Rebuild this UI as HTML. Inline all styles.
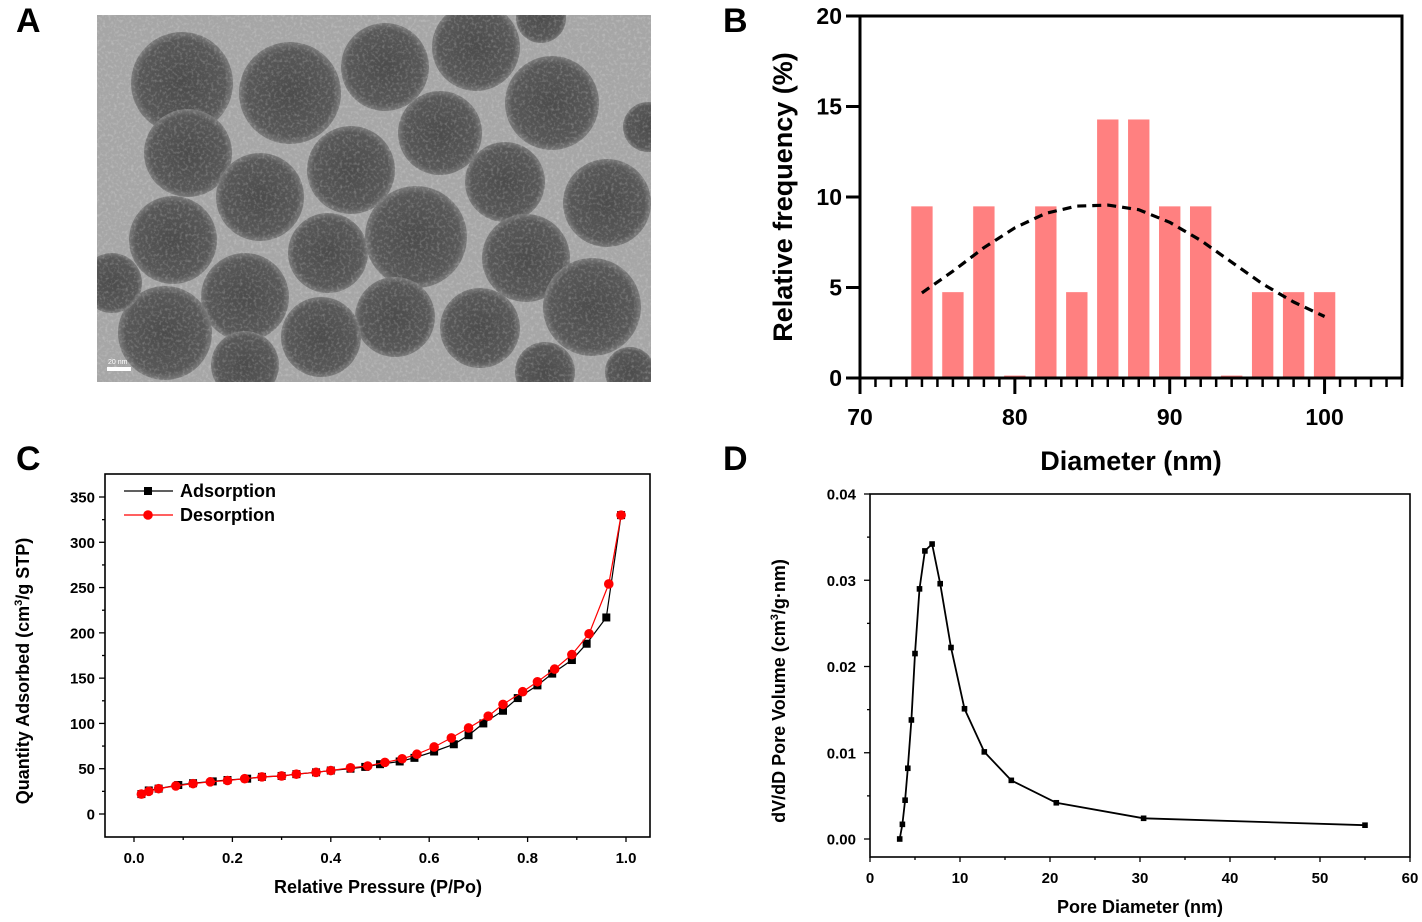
<!DOCTYPE html>
<html><head><meta charset="utf-8"><style>
html,body{margin:0;padding:0;background:#fff;}
svg{display:block;font-family:"Liberation Sans",Arial,sans-serif;}
</style></head><body>
<svg id="fig" width="1422" height="922" viewBox="0 0 1422 922" xmlns="http://www.w3.org/2000/svg">
<defs>
<radialGradient id="pg" cx="50%" cy="50%" r="50%">
<stop offset="0" stop-color="#4c4c4c"/><stop offset="0.85" stop-color="#585858"/><stop offset="1" stop-color="#7a7a7a"/>
</radialGradient>
<clipPath id="tc"><rect x="97" y="15" width="554" height="367"/></clipPath>
<filter id="nz" x="0" y="0" width="100%" height="100%">
<feTurbulence type="fractalNoise" baseFrequency="0.35" numOctaves="2" seed="3"/>
<feColorMatrix type="matrix" values="0 0 0 0 1  0 0 0 0 1  0 0 0 0 1  0 0 0 1.6 -0.75"/>
</filter>
</defs>
<g font-weight="bold" font-size="34" fill="#000">
<text x="16" y="32">A</text>
<text x="723" y="32">B</text>
<text x="16" y="470">C</text>
<text x="723" y="470">D</text>
</g>
<g id="tem" clip-path="url(#tc)">
<rect x="97" y="15" width="554" height="367" fill="#a6a6a6"/>
<g id="particles"></g>
<rect x="97" y="15" width="554" height="367" filter="url(#nz)" opacity="0.35"/>
<rect x="107" y="367" width="24" height="4" fill="#fff"/>
<text x="108" y="364" font-size="7" fill="#fff">20 nm</text>
</g>
<g id="chartB"></g>
<g id="chartC"></g>
<g id="chartD"></g>
</svg>
<script>
// ---------- Panel B data ----------
const bCategories = [74,76,78,80,82,84,86,88,90,92,94,96,98,100];
const bValues = [9.5,4.76,9.5,0.15,9.5,4.76,14.3,14.3,9.5,9.5,0.15,4.76,4.76,4.76];
const bFitX = [74,76,78,80,82,84,86,88,90,92,94,96,98,100];
const bFitY = [4.7,5.9,7.2,8.3,9.1,9.5,9.55,9.3,8.6,7.6,6.4,5.2,4.2,3.4];
const bYTicks = [0,5,10,15,20];
const bXTicks = [70,80,90,100];
// ---------- Panel C data ----------
const cAdsX = [0.015,0.03,0.05,0.09,0.12,0.16,0.19,0.23,0.26,0.30,0.33,0.37,0.40,0.44,0.47,0.50,0.54,0.57,0.61,0.65,0.68,0.71,0.75,0.78,0.82,0.85,0.89,0.92,0.96,0.99];
const cAdsY = [22,26,28,32,34,36,37.5,39,41,42,44,46,48,50,52,55,58,62,69,77,87,100,114,128,142,155,170,188,217,330];
const cDesX = [0.99,0.965,0.925,0.89,0.855,0.82,0.79,0.75,0.72,0.68,0.645,0.61,0.575,0.545,0.51,0.475,0.44,0.40,0.37,0.33,0.30,0.26,0.225,0.19,0.155,0.12,0.085,0.05,0.03,0.015];
const cDesY = [330,254,199,176,160,146,135,121,108,95,84,74,66,61,57,53,51,48,46,44,42,41,39,37,35.5,33.5,31,28,25,22];
const cXTicks = [0,0.2,0.4,0.6,0.8,1.0];
const cYTicks = [0,50,100,150,200,250,300,350];
// ---------- Panel D data ----------
const dX = [3.3,3.6,3.9,4.2,4.6,5.0,5.5,6.1,6.9,7.8,9.0,10.5,12.7,15.7,20.7,30.4,55];
const dY = [0,0.0017,0.0045,0.0082,0.0138,0.0215,0.029,0.0334,0.0342,0.0296,0.0222,0.0151,0.0101,0.0068,0.0042,0.0024,0.0016];
const dXTicks = [0,10,20,30,40,50,60];
const dYTicks = [0,0.01,0.02,0.03,0.04];
// ---------- TEM particles ----------
const particles = [[182,83,51],[290,93,51],[385,67,44],[476,47,44],[552,103,47],[440,133,42],[188,153,44],[351,170,44],[260,197,44],[505,182,40],[607,203,44],[416,237,51],[173,240,44],[328,253,40],[526,258,44],[245,297,44],[592,307,49],[165,333,47],[395,317,40],[321,337,40],[480,328,40],[112,283,30],[648,127,25],[545,372,30],[630,372,25],[245,365,34],[541,18,25]];

const NS="http://www.w3.org/2000/svg";
function mk(parent,tag,attrs,text){const e=document.createElementNS(NS,tag);for(const k in attrs)e.setAttribute(k,attrs[k]);if(text!==undefined)e.textContent=text;parent.appendChild(e);return e;}

const pg=document.getElementById('particles');
particles.forEach(p=>{
  const c=mk(pg,'circle',{cx:p[0],cy:p[1],r:p[2],fill:'url(#pg)'});
  
  
});

// ===== Panel B =====
(function(){
  const g=document.getElementById('chartB');
  const x0=860,x1=1402,y0=378,y1=16, xmin=70,xmax=105, ymax=20;
  const X=v=>x0+(v-xmin)/(xmax-xmin)*(x1-x0);
  const Y=v=>y0-(v/ymax)*(y0-y1);
  const bw=(X(1.42)-X(0));
  bCategories.forEach((c,i)=>{
    const r=mk(g,'rect',{x:X(c)-bw/2,y:Y(bValues[i]),width:bw,height:y0-Y(bValues[i]),fill:'#ff8080',stroke:'#fff','stroke-width':0.6});
    
    
  });
  let d='';
  bFitX.forEach((v,i)=>{d+=(i?'L':'M')+X(v).toFixed(1)+','+Y(bFitY[i]).toFixed(1);});
  const fit=mk(g,'path',{d:d,fill:'none',stroke:'#000','stroke-width':3.2,'stroke-dasharray':'9 6','stroke-linejoin':'round'});
  
  
  const ax=mk(g,'path',{d:`M${x0},${y1}V${y0}H${x1}V${y1}H${x0}Z`,fill:'none',stroke:'#000','stroke-width':3});
  
  
  for(let v=70;v<=105;v++){
    const maj=bXTicks.includes(v);
    mk(g,'line',{x1:X(v),x2:X(v),y1:y0,y2:y0+(maj?16:9),stroke:'#000','stroke-width':maj?3:2.5});
  }
  bXTicks.forEach(v=>{const t=mk(g,'text',{x:X(v),y:425,'text-anchor':'middle','font-size':23,'font-weight':'bold'},v);
    });
  bYTicks.forEach(v=>{mk(g,'line',{x1:x0-14,x2:x0,y1:Y(v),y2:Y(v),stroke:'#000','stroke-width':3});
    const t=mk(g,'text',{x:842,y:Y(v)+8,'text-anchor':'end','font-size':23,'font-weight':'bold'},v);
    });
  const xt=mk(g,'text',{x:1131,y:470,'text-anchor':'middle','font-size':27,'font-weight':'bold'},'Diameter (nm)');
  
  const yt=mk(g,'text',{x:0,y:0,'text-anchor':'middle','font-size':27,'font-weight':'bold',transform:'translate(792,197) rotate(-90)'},'Relative frequency (%)');
  
})();

// ===== Panel C =====
(function(){
  const g=document.getElementById('chartC');
  const x0=105,x1=650,yt0=474,yb=837;
  const X=v=>134+v*(626-134);
  const Y=v=>814-v*(814-497)/350;
  mk(g,'rect',{x:x0,y:yt0,width:x1-x0,height:yb-yt0,fill:'none',stroke:'#000','stroke-width':1.6});
  for(let v=0;v<=1.0001;v+=0.1){const maj=Math.round(v*10)%2===0;
    mk(g,'line',{x1:X(v),x2:X(v),y1:yb,y2:yb+(maj?5:3),stroke:'#000','stroke-width':1.3});}
  cXTicks.forEach(v=>{const t=mk(g,'text',{x:X(v),y:863,'text-anchor':'middle','font-size':15,'font-weight':'bold'},v.toFixed(1));
    });
  for(let v=0;v<=350;v+=25){const maj=v%50===0;
    mk(g,'line',{x1:x0-(maj?6:3),x2:x0,y1:Y(v),y2:Y(v),stroke:'#000','stroke-width':1.3});}
  cYTicks.forEach(v=>{const t=mk(g,'text',{x:95,y:Y(v)+5.5,'text-anchor':'end','font-size':15,'font-weight':'bold'},v);
    });
  function series(xs,ys,col,name){
    let d='';xs.forEach((v,i)=>{d+=(i?'L':'M')+X(v).toFixed(1)+','+Y(ys[i]).toFixed(1);});
    const p=mk(g,'path',{d:d,fill:'none',stroke:col,'stroke-width':1.2});
    
  }
  series(cAdsX,cAdsY,'#000','adsorption');
  cAdsX.forEach((v,i)=>{const m=mk(g,'rect',{x:X(v)-4,y:Y(cAdsY[i])-4,width:8,height:8,fill:'#000'});
    });
  series(cDesX,cDesY,'#ff0000','desorption');
  cDesX.forEach((v,i)=>{const m=mk(g,'circle',{cx:X(v),cy:Y(cDesY[i]),r:4.8,fill:'#ff0000'});
    });
  const lg=mk(g,'g',{});
  
  mk(lg,'line',{x1:124,x2:173,y1:491,y2:491,stroke:'#000','stroke-width':1.2});
  mk(lg,'rect',{x:144,y:487,width:8,height:8,fill:'#000'});
  mk(lg,'text',{x:180,y:497,'font-size':18,'font-weight':'bold'},'Adsorption');
  mk(lg,'line',{x1:124,x2:173,y1:515,y2:515,stroke:'#ff0000','stroke-width':1.2});
  mk(lg,'circle',{cx:148,cy:515,r:4.8,fill:'#ff0000'});
  mk(lg,'text',{x:180,y:521,'font-size':18,'font-weight':'bold'},'Desorption');
  const xt=mk(g,'text',{x:378,y:893,'text-anchor':'middle','font-size':18,'font-weight':'bold'},'Relative Pressure (P/Po)');
  
  const yt=mk(g,'text',{x:0,y:0,'text-anchor':'middle','font-size':18,'font-weight':'bold',transform:'translate(29,671) rotate(-90)'});
  
  yt.innerHTML='Quantity Adsorbed (cm<tspan dy="-7" font-size="11">3</tspan><tspan dy="7">/g STP)</tspan>';
})();

// ===== Panel D =====
(function(){
  const g=document.getElementById('chartD');
  const x0=870,x1=1410,yt0=494,yb=857;
  const X=v=>x0+v/60*(x1-x0);
  const Y=v=>839-v*(839-494)/0.04;
  mk(g,'rect',{x:x0,y:yt0,width:x1-x0,height:yb-yt0,fill:'none',stroke:'#000','stroke-width':1.6});
  for(let v=0;v<=60;v+=5){const maj=v%10===0;
    mk(g,'line',{x1:X(v),x2:X(v),y1:yb,y2:yb+(maj?5:3),stroke:'#000','stroke-width':1.3});}
  dXTicks.forEach(v=>{const t=mk(g,'text',{x:X(v),y:883,'text-anchor':'middle','font-size':15,'font-weight':'bold'},v);
    });
  for(let i=0;i<=8;i++){const v=i*0.005,maj=i%2===0;
    mk(g,'line',{x1:x0-(maj?6:3),x2:x0,y1:Y(v),y2:Y(v),stroke:'#000','stroke-width':1.3});}
  dYTicks.forEach(v=>{const t=mk(g,'text',{x:856,y:Y(v)+5.5,'text-anchor':'end','font-size':15,'font-weight':'bold'},v.toFixed(2));
    });
  let d='';dX.forEach((v,i)=>{d+=(i?'L':'M')+X(v).toFixed(1)+','+Y(dY[i]).toFixed(1);});
  const p=mk(g,'path',{d:d,fill:'none',stroke:'#000','stroke-width':1.8});
  
  dX.forEach((v,i)=>{const m=mk(g,'rect',{x:X(v)-2.8,y:Y(dY[i])-2.8,width:5.6,height:5.6,fill:'#000'});
    });
  const xt=mk(g,'text',{x:1140,y:913,'text-anchor':'middle','font-size':18,'font-weight':'bold'},'Pore Diameter (nm)');
  
  const yt=mk(g,'text',{x:0,y:0,'text-anchor':'middle','font-size':18,'font-weight':'bold',transform:'translate(785,691) rotate(-90)'});
  
  yt.innerHTML='dV/dD Pore Volume (cm<tspan dy="-7" font-size="11">3</tspan><tspan dy="7">/g·nm)</tspan>';
})();
</script>
</body></html>
